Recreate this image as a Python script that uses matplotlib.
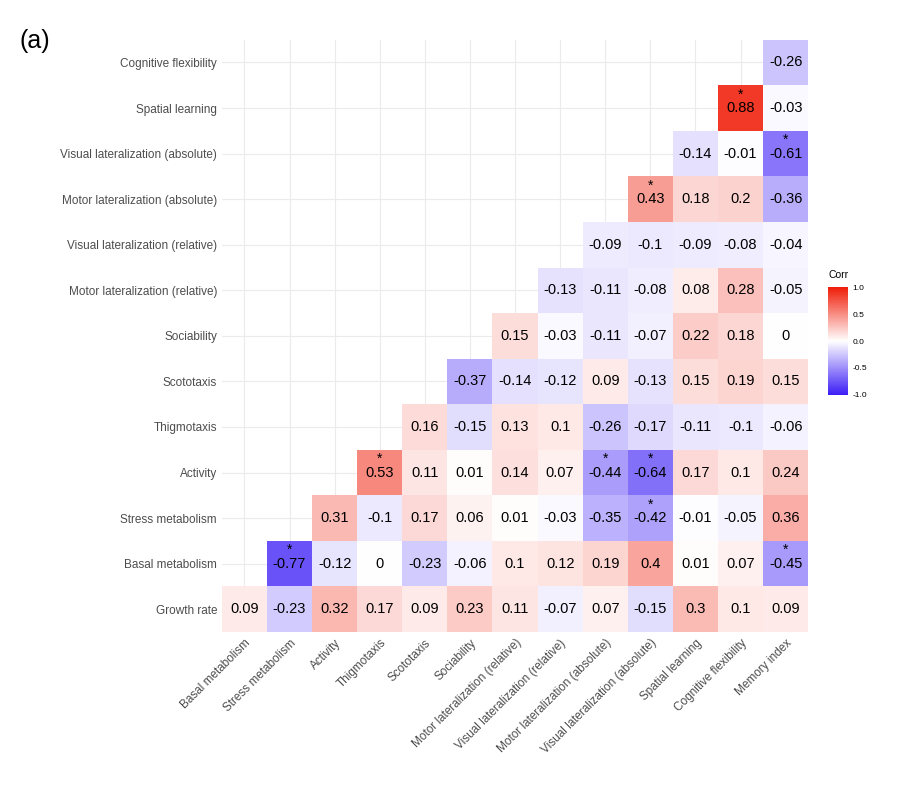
import numpy as np
import matplotlib
matplotlib.use('Agg')
import matplotlib.pyplot as plt
from matplotlib.colors import LinearSegmentedColormap

# y labels bottom -> top
row_labels = ['Growth rate', 'Basal metabolism', 'Stress metabolism', 'Activity', 'Thigmotaxis',
              'Scototaxis', 'Sociability', 'Motor lateralization (relative)',
              'Visual lateralization (relative)', 'Motor lateralization (absolute)',
              'Visual lateralization (absolute)', 'Spatial learning', 'Cognitive flexibility']
col_labels = ['Basal metabolism', 'Stress metabolism', 'Activity', 'Thigmotaxis', 'Scototaxis',
              'Sociability', 'Motor lateralization (relative)', 'Visual lateralization (relative)',
              'Motor lateralization (absolute)', 'Visual lateralization (absolute)',
              'Spatial learning', 'Cognitive flexibility', 'Memory index']

# each row starts at column index == row index
rows = [
    [0.09, -0.23, 0.32, 0.17, 0.09, 0.23, 0.11, -0.07, 0.07, -0.15, 0.3, 0.1, 0.09],
    [-0.77, -0.12, 0, -0.23, -0.06, 0.1, 0.12, 0.19, 0.4, 0.01, 0.07, -0.45],
    [0.31, -0.1, 0.17, 0.06, 0.01, -0.03, -0.35, -0.42, -0.01, -0.05, 0.36],
    [0.53, 0.11, 0.01, 0.14, 0.07, -0.44, -0.64, 0.17, 0.1, 0.24],
    [0.16, -0.15, 0.13, 0.1, -0.26, -0.17, -0.11, -0.1, -0.06],
    [-0.37, -0.14, -0.12, 0.09, -0.13, 0.15, 0.19, 0.15],
    [0.15, -0.03, -0.11, -0.07, 0.22, 0.18, 0],
    [-0.13, -0.11, -0.08, 0.08, 0.28, -0.05],
    [-0.09, -0.1, -0.09, -0.08, -0.04],
    [0.43, 0.18, 0.2, -0.36],
    [-0.14, -0.01, -0.61],
    [0.88, -0.03],
    [-0.26],
]
# significant cells (row, col)
signif = [(1, 1), (1, 12), (2, 9), (3, 3), (3, 8), (3, 9), (9, 9), (10, 12), (11, 11)]

plt.rcParams['font.family'] = ['Liberation Sans', 'DejaVu Sans']
cmap = LinearSegmentedColormap.from_list('corr', ['#3d1ff5', 'white', '#f01e0a'])

fig = plt.figure(figsize=(9.02, 7.94), dpi=100)
ax = fig.add_axes([0.246, 0.204, 0.65, 0.746])
n = len(col_labels)
for i, vals in enumerate(rows):
    for k, v in enumerate(vals):
        j = i + k
        ax.add_patch(plt.Rectangle((j - 0.5, i - 0.5), 1, 1, color=cmap((v + 1) / 2), lw=0, zorder=2))
        txt = '0' if v == 0 else ('%g' % v)
        ax.text(j, i, txt, ha='center', va='center', fontsize=10.5, zorder=3)
        if (i, j) in signif:
            ax.text(j, i + 0.3, '*', ha='center', va='center', fontsize=10, zorder=3)

ax.set_xlim(-0.5, n - 0.5)
ax.set_ylim(-0.5, n - 0.5)
ax.set_xticks(range(n))
ax.set_xticklabels(col_labels, rotation=45, ha='right', rotation_mode='anchor', fontsize=8.5, color='#4d4d4d')
ax.set_yticks(range(n))
ax.set_yticklabels(row_labels, fontsize=8.5, color='#4d4d4d')
ax.tick_params(length=0)
ax.grid(color='#ebebeb', lw=0.8, zorder=0)
for s in ax.spines.values():
    s.set_visible(False)

cax = fig.add_axes([0.918, 0.503, 0.022, 0.135])
sm = plt.cm.ScalarMappable(cmap=cmap, norm=plt.Normalize(-1, 1))
cb = fig.colorbar(sm, cax=cax, ticks=[-1, -0.5, 0, 0.5, 1])
cb.ax.set_yticklabels(['-1.0', '-0.5', '0.0', '0.5', '1.0'], fontsize=6)
cb.outline.set_visible(False)
cb.ax.tick_params(length=0)
fig.text(0.918, 0.65, 'Corr', fontsize=7.5)
fig.text(0.022, 0.94, '(a)', fontsize=18)

fig.savefig('out.png', dpi=100)
